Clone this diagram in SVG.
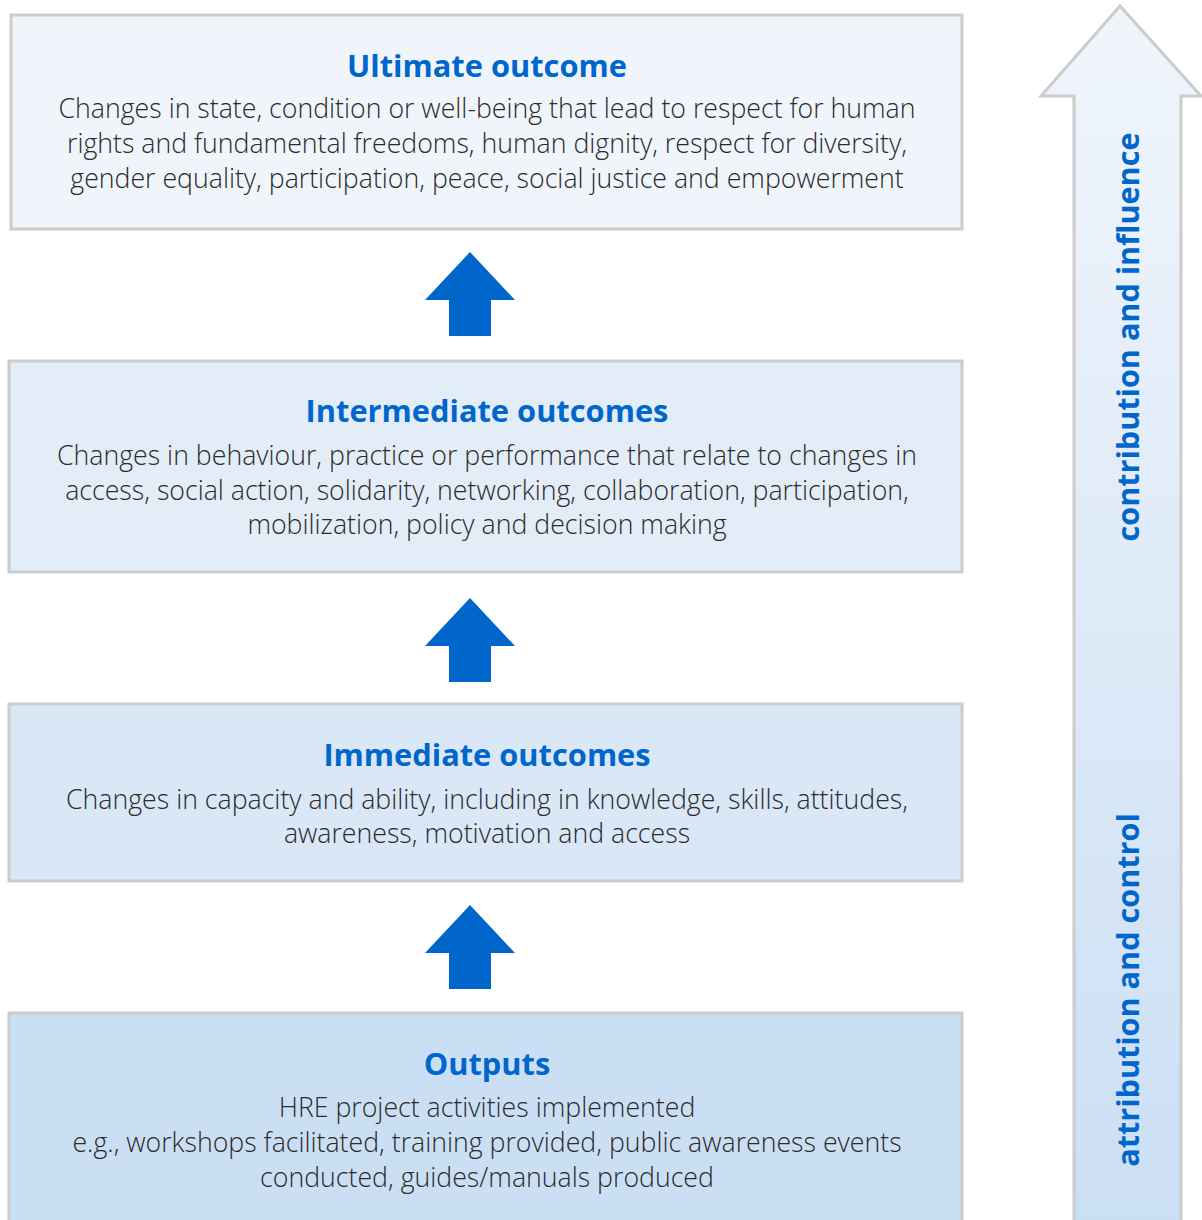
<svg xmlns="http://www.w3.org/2000/svg" width="1202" height="1220" viewBox="0 0 1202 1220">
<style>
.box{stroke:#cccccc;stroke-width:3}
.t{font-family:"Open Sans","Liberation Sans",sans-serif;font-weight:700;font-size:30.8px;fill:#0066cc;text-anchor:middle}
.b{font-family:"Open Sans","Liberation Sans",sans-serif;font-weight:300;font-size:26.7px;fill:#2b2b2b;text-anchor:middle}
.v{font-family:"Open Sans","Liberation Sans",sans-serif;font-weight:700;font-size:30.6px;fill:#0066cc;text-anchor:middle}
.arr{fill:#0066cc}
</style>
<defs>
<linearGradient id="g" x1="0" y1="0" x2="0" y2="1">
<stop offset="0" stop-color="#f0f5fb"/>
<stop offset="1" stop-color="#cbdff4"/>
</linearGradient>
</defs>
<g id="side-arrow">
<polygon points="1120,6 1201,96 1181,96 1181,1222 1074,1222 1074,96 1041,96" fill="url(#g)" stroke="#cccccc" stroke-width="3"/>
<text class="v" transform="translate(1139,337) rotate(-90)">contribution and influence</text>
<text class="v" transform="translate(1139,990) rotate(-90)">attribution and control</text>
</g>
<g id="ultimate">
<rect class="box" x="11" y="15" width="951" height="214" fill="#f0f5fb"/>
<text class="t" x="487" y="77">Ultimate outcome</text>
<text class="b" x="487" y="118">Changes in state, condition or well-being that lead to respect for human</text>
<text class="b" x="487" y="153">rights and fundamental freedoms, human dignity, respect for diversity,</text>
<text class="b" x="487" y="188">gender equality, participation, peace, social justice and empowerment</text>
</g>
<g id="intermediate">
<rect class="box" x="9" y="361" width="953" height="211" fill="#e3edf8"/>
<text class="t" x="487" y="422">Intermediate outcomes</text>
<text class="b" x="487" y="465">Changes in behaviour, practice or performance that relate to changes in</text>
<text class="b" x="487" y="500">access, social action, solidarity, networking, collaboration, participation,</text>
<text class="b" x="487" y="534">mobilization, policy and decision making</text>
</g>
<g id="immediate">
<rect class="box" x="9" y="704" width="953" height="177" fill="#d9e7f6"/>
<text class="t" x="487" y="766">Immediate outcomes</text>
<text class="b" x="487" y="809">Changes in capacity and ability, including in knowledge, skills, attitudes,</text>
<text class="b" x="487" y="843">awareness, motivation and access</text>
</g>
<g id="outputs">
<rect class="box" x="9" y="1013" width="953" height="212" fill="#cbdff4"/>
<text class="t" x="487" y="1075">Outputs</text>
<text class="b" x="487" y="1117">HRE project activities implemented</text>
<text class="b" x="487" y="1152">e.g., workshops facilitated, training provided, public awareness events</text>
<text class="b" x="487" y="1187">conducted, guides/manuals produced</text>
</g>
<g id="connectors">
<polygon class="arr" points="470,252 515,300 491,300 491,336 449,336 449,300 425,300"/>
<polygon class="arr" points="470,598 515,646 491,646 491,682 449,682 449,646 425,646"/>
<polygon class="arr" points="470,905 515,953 491,953 491,989 449,989 449,953 425,953"/>
</g>
</svg>
